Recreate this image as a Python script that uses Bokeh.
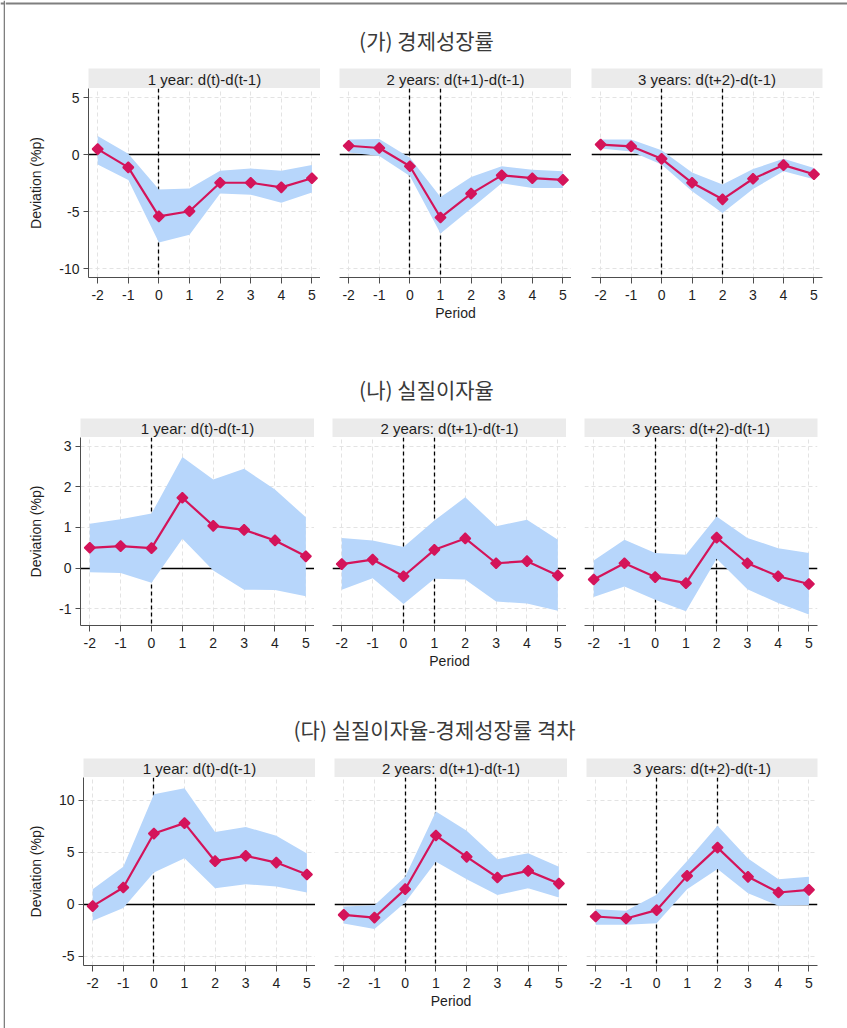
from bokeh.plotting import figure
from bokeh.layouts import column, row
from bokeh.models import Range1d, Label, FixedTicker
from bokeh.embed import file_html
from bokeh.resources import INLINE

# ---------------- data ----------------
periods = [-2, -1, 0, 1, 2, 3, 4, 5]
x_tick_labels = ["-2", "-1", "0", "1", "2", "3", "4", "5"]
panel_titles = ["1 year: d(t)-d(t-1)", "2 years: d(t+1)-d(t-1)", "3 years: d(t+2)-d(t-1)"]
event_lines = [[0], [0, 1], [0, 2]]
group_titles = ["(가) 경제성장률", "(나) 실질이자율", "(다) 실질이자율-경제성장률 격차"]
y_label = "Deviation (%p)"
x_label = "Period"

# (가) growth
g1_est = [[0.5, -1.1, -5.4, -4.95, -2.45, -2.45, -2.85, -2.05],
          [0.8, 0.6, -1.0, -5.5, -3.4, -1.8, -2.05, -2.2],
          [0.9, 0.75, -0.35, -2.45, -3.9, -2.1, -0.9, -1.7]]
g1_hi = [[1.65, 0.1, -3.05, -2.95, -1.4, -1.2, -1.4, -0.9],
         [1.35, 1.4, -0.25, -3.7, -1.95, -1.0, -1.3, -1.45],
         [1.35, 1.35, 0.4, -1.55, -2.6, -1.25, -0.35, -1.15]]
g1_lo = [[-0.85, -2.2, -7.7, -7.0, -3.4, -3.5, -4.2, -3.3],
         [0.2, -0.1, -1.85, -6.9, -4.7, -2.5, -2.9, -2.9],
         [0.55, 0.3, -0.85, -3.2, -5.1, -3.0, -1.45, -2.15]]
g1_yticks = [-10, -5, 0, 5]
g1_ytick_labels = ["-10", "-5", "0", "5"]

# (나) real interest rate
g2_est = [[0.5, 0.54, 0.49, 1.73, 1.04, 0.94, 0.68, 0.29],
          [0.1, 0.21, -0.2, 0.45, 0.73, 0.12, 0.17, -0.18],
          [-0.28, 0.12, -0.22, -0.37, 0.75, 0.12, -0.2, -0.39]]
g2_hi = [[1.09, 1.2, 1.34, 2.73, 2.18, 2.44, 1.93, 1.25],
         [0.74, 0.68, 0.52, 1.17, 1.74, 1.03, 1.19, 0.7],
         [0.19, 0.7, 0.37, 0.33, 1.27, 0.74, 0.49, 0.37]]
g2_lo = [[-0.1, -0.12, -0.36, 0.72, -0.06, -0.53, -0.54, -0.69],
         [-0.53, -0.25, -0.88, -0.26, -0.28, -0.82, -0.87, -1.05],
         [-0.71, -0.45, -0.78, -1.06, 0.23, -0.52, -0.86, -1.14]]
g2_yticks = [-1, 0, 1, 2, 3]
g2_ytick_labels = ["-1", "0", "1", "2", "3"]

# (다) gap
g3_est = [[-0.19, 1.6, 6.79, 7.79, 4.13, 4.64, 4.0, 2.85],
          [-1.03, -1.29, 1.44, 6.6, 4.55, 2.56, 3.2, 1.98],
          [-1.19, -1.38, -0.58, 2.72, 5.44, 2.63, 1.12, 1.38]]
g3_hi = [[1.44, 3.59, 10.58, 11.15, 6.95, 7.43, 6.57, 4.87],
         [-0.23, -0.1, 2.63, 8.9, 7.05, 4.33, 4.9, 3.59],
         [-0.48, -0.64, 0.9, 4.16, 7.53, 4.38, 2.4, 2.63]]
g3_lo = [[-1.6, -0.38, 3.04, 4.42, 1.54, 1.92, 1.69, 1.12],
         [-1.87, -2.4, 0.15, 4.07, 2.4, 0.87, 1.54, 0.63],
         [-1.99, -1.99, -1.83, 1.44, 3.37, 1.06, -0.16, -0.07]]
g3_yticks = [-5, 0, 5, 10]
g3_ytick_labels = ["-5", "0", "5", "10"]

# ---------------- style ----------------
BAND = "#b7d6fb"
LINE = "#d4145a"
GRID = "#e3e3e3"
AXIS = "#4d4d4d"
HEAD_BG = "#ebebeb"
FRAME = "#7f7f7f"
FONT = "Liberation Sans"
KFONT = "Noto Sans CJK KR"
STRIP = 5
W = 847 - STRIP
X_RANGE = (-2.3, 5.28)
TOTAL_H = 1028


def header_fig(text, L, Wf, hh, R):
    h = figure(width=L + Wf + R, height=hh, x_range=Range1d(0, 1), y_range=Range1d(0, 1),
               toolbar_location=None, output_backend="svg", min_border_left=L,
               min_border_right=R, min_border_top=0, min_border_bottom=0,
               x_axis_location=None, y_axis_location=None)
    h.grid.visible = False
    h.outline_line_color = None
    h.background_fill_color = HEAD_BG
    h.border_fill_color = "white"
    h.add_layout(Label(x=0.5, y=0.45, text=text, text_align="center", text_baseline="middle",
                       text_font=FONT, text_font_size="15px", text_color="#1e1e1e"))
    return h


def panel_fig(est, lo, hi, yr, yticks, ylabels, events, L, Wf, R, fh, B, show_y, show_x_label):
    p = figure(width=L + Wf + R, height=fh + B, x_range=Range1d(*X_RANGE), y_range=Range1d(*yr),
               toolbar_location=None, output_backend="svg", min_border_left=L,
               min_border_right=R, min_border_top=0, min_border_bottom=B,
               y_axis_location="left" if show_y else None)
    p.outline_line_color = None
    p.background_fill_color = "white"
    p.xgrid.ticker = FixedTicker(ticks=periods)
    p.ygrid.ticker = FixedTicker(ticks=yticks)
    p.grid.grid_line_color = GRID
    p.grid.grid_line_dash = "4 3"
    p.grid.grid_line_width = 1

    ax = p.xaxis[0]
    ax.ticker = FixedTicker(ticks=periods)
    ax.major_label_overrides = dict(zip(periods, x_tick_labels))
    ax.axis_line_color = AXIS
    ax.major_tick_line_color = AXIS
    ax.major_tick_out = 6
    ax.major_tick_in = 0
    ax.minor_tick_line_color = None
    ax.major_label_text_font = FONT
    ax.major_label_text_font_size = "14px"
    ax.major_label_text_color = "#1e1e1e"
    ax.major_label_standoff = 6
    if show_x_label:
        ax.axis_label = x_label
        ax.axis_label_text_font = FONT
        ax.axis_label_text_font_size = "14px"
        ax.axis_label_text_font_style = "normal"
        ax.axis_label_text_color = "#1e1e1e"
        ax.axis_label_standoff = 2
    if show_y:
        ay = p.yaxis[0]
        ay.ticker = FixedTicker(ticks=yticks)
        ay.major_label_overrides = dict(zip(yticks, ylabels))
        ay.axis_line_color = AXIS
        ay.major_tick_line_color = AXIS
        ay.major_tick_out = 5
        ay.major_tick_in = 0
        ay.minor_tick_line_color = None
        ay.major_label_text_font = FONT
        ay.major_label_text_font_size = "14px"
        ay.major_label_text_color = "#1e1e1e"
        ay.major_label_standoff = 4
        ay.major_label_orientation = "horizontal"
        ay.axis_label = y_label
        ay.axis_label_text_font = FONT
        ay.axis_label_text_font_size = "14px"
        ay.axis_label_text_font_style = "normal"
        ay.axis_label_text_color = "#1e1e1e"
        ay.axis_label_standoff = 12

    p.hspan(y=[0], line_color="black", line_width=1.3)
    p.vspan(x=events, line_color="black", line_width=1.3, line_dash="4 3")
    p.varea(x=periods, y1=lo, y2=hi, fill_color=BAND, fill_alpha=1.0)
    p.line(x=periods, y=est, line_color=LINE, line_width=2.2)
    p.scatter(x=periods, y=est, marker="square", angle=0.785398, size=7.5,
              fill_color=LINE, line_color=LINE, line_width=1.5)
    return p


def title_fig(text, h, from_top, cx, top_rule=False):
    t = figure(width=W, height=h, x_range=Range1d(0, W), y_range=Range1d(0, h),
               toolbar_location=None, output_backend="svg", min_border=0,
               x_axis_location=None, y_axis_location=None)
    t.grid.visible = False
    t.outline_line_color = None
    if top_rule:
        t.hspan(y=[h - 3.1], line_color=FRAME, line_width=1.8)
    t.add_layout(Label(x=cx - STRIP, y=h - from_top, text=text, text_align="center",
                       text_baseline="middle", text_font=KFONT, text_font_size="21px",
                       text_color="#3a3a3a"))
    return t


def left_strip():
    s = figure(width=STRIP, height=TOTAL_H, x_range=Range1d(0, STRIP), y_range=Range1d(0, TOTAL_H),
               toolbar_location=None, output_backend="svg", min_border=0,
               x_axis_location=None, y_axis_location=None)
    s.grid.visible = False
    s.outline_line_color = None
    s.vspan(x=[3.5], line_color=FRAME, line_width=1.6)
    s.hspan(y=[TOTAL_H - 3.1], line_color=FRAME, line_width=1.8)
    return s


def group(est, lo, hi, yr, yticks, ylabels, lefts, widths, hh, fh, B):
    cols = []
    used = sum(lefts) + sum(widths)
    for i in range(3):
        R = (W - used) if i == 2 else 0
        hf = header_fig(panel_titles[i], lefts[i], widths[i], hh, R)
        pf = panel_fig(est[i], lo[i], hi[i], yr, yticks, ylabels, event_lines[i], lefts[i], widths[i],
                       R, fh, B, show_y=(i == 0), show_x_label=(i == 1))
        cols.append(column(hf, pf, spacing=0))
    return row(*cols, spacing=0)


body = column(
    title_fig(group_titles[0], 68, 39, 426, top_rule=True),
    group(g1_est, g1_lo, g1_hi, (-10.76, 5.82), g1_yticks, g1_ytick_labels,
          [88 - STRIP, 19, 20], [232, 232, 231], 20, 189, 57),
    title_fig(group_titles[1], 84, 54, 426),
    group(g2_est, g2_lo, g2_hi, (-1.41, 3.21), g2_yticks, g2_ytick_labels,
          [80 - STRIP, 18, 18], [234, 234, 233], 19, 188, 57),
    title_fig(group_titles[2], 76, 46, 434),
    group(g3_est, g3_lo, g3_hi, (-5.9, 12.18), g3_yticks, g3_ytick_labels,
          [83 - STRIP, 19, 19], [232, 233, 231], 19, 188, 63),
    spacing=0,
)
layout = row(left_strip(), body, spacing=0)

open("out.html", "w").write(file_html(layout, INLINE))
